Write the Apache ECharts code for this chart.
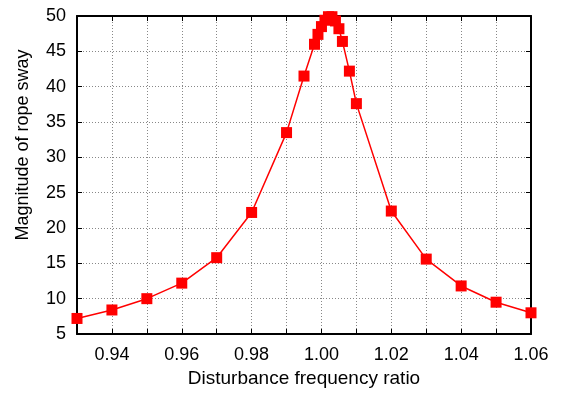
<!DOCTYPE html>
<html>
<head>
<meta charset="utf-8">
<script src="https://cdn.jsdelivr.net/npm/echarts@6/dist/echarts.min.js"></script>
<style>
html,body{margin:0;padding:0;background:#fff;}
#main{width:561px;height:394px;}
</style>
</head>
<body>
<div id="main"></div>
<script>
// frequency ratio vs sway magnitude
var ratio = [0.93, 0.94, 0.95, 0.96, 0.97, 0.98, 0.99, 0.995, 0.998, 0.999, 1.000, 1.001, 1.002, 1.003, 1.004, 1.005, 1.006, 1.008, 1.010, 1.02, 1.03, 1.04, 1.05, 1.06];
var sway = [7.2, 8.4, 10.0, 12.2, 15.8, 22.2, 33.5, 41.5, 46.0, 47.4, 48.5, 49.4, 49.9, 49.9, 49.3, 48.2, 46.4, 42.2, 37.6, 22.4, 15.6, 11.8, 9.5, 8.0];
var xMin = 0.93, xMax = 1.06, xStep = 0.01;
var yMin = 5, yMax = 50, yStep = 5;

var chart = echarts.init(document.getElementById('main'));
var pts = [];
for (var i = 0; i < ratio.length; i++) {
	pts.push([ratio[i], sway[i]]);
}
var font = 'Liberation Sans, Arial, sans-serif';
var gridDash = { color: '#888', width: 1, type: [1, 2] };

var option = {
	animation: false,
	grid: { left: 77, right: 30, top: 16, bottom: 60 },
	// y title sits a bit above the plot centre in the original
	graphic: [{
		type: 'text',
		x: 23, y: 145,
		rotation: Math.PI / 2,
		style: {
			text: 'Magnitude of rope sway',
			fill: '#000',
			fontSize: 18,
			fontFamily: font,
			align: 'center',
			verticalAlign: 'middle'
		}
	}],
	xAxis: [{
		type: 'value',
		min: xMin, max: xMax, interval: xStep,
		name: 'Disturbance frequency ratio',
		nameLocation: 'middle', nameGap: 32,
		nameTextStyle: { color: '#000', fontSize: 19, fontFamily: font },
		axisLine: { lineStyle: { color: '#000', width: 2 } },
		axisTick: { inside: true, length: 5, lineStyle: { color: '#000' } },
		axisLabel: {
			color: '#000', fontSize: 18, fontFamily: font, margin: 12,
			formatter: function (v) {
				var s = Math.round(v * 100);
				return s % 2 === 0 ? v.toFixed(2) : '';
			}
		},
		splitLine: { show: true, lineStyle: gridDash }
	}, {
		type: 'value', position: 'top',
		min: xMin, max: xMax, interval: xStep,
		axisLine: { lineStyle: { color: '#000', width: 2 } },
		axisTick: { inside: true, length: 5, lineStyle: { color: '#000' } },
		axisLabel: { show: false },
		splitLine: { show: false }
	}],
	yAxis: [{
		type: 'value',
		min: yMin, max: yMax, interval: yStep,
		axisLine: { show: true, lineStyle: { color: '#000', width: 2 } },
		axisTick: { show: true, inside: true, length: 5, lineStyle: { color: '#000' } },
		axisLabel: { color: '#000', fontSize: 18, fontFamily: font, margin: 11 },
		splitLine: { show: true, lineStyle: gridDash }
	}, {
		type: 'value', position: 'right',
		min: yMin, max: yMax, interval: yStep,
		axisLine: { show: true, lineStyle: { color: '#000', width: 2 } },
		axisTick: { show: true, inside: true, length: 5, lineStyle: { color: '#000' } },
		axisLabel: { show: false },
		splitLine: { show: false }
	}],
	series: [{
		type: 'line',
		data: pts,
		symbol: 'rect',
		symbolSize: 11,
		itemStyle: { color: '#ff0000' },
		lineStyle: { color: '#ff0000', width: 1.5 },
		clip: false
	}]
};
chart.setOption(option);
</script>
</body>
</html>
